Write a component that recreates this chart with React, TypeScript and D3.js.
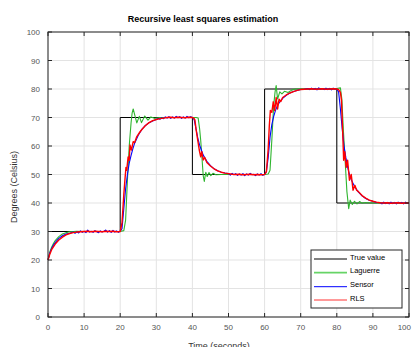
import * as d3 from "d3";

// Recursive least squares estimation: temperature steps and three estimators
type Pt = [number, number];

const title = "Recursive least squares estimation";
const xLabel = "Time (seconds)";
const yLabel = "Degrees (Celsius)";

const xTicks = [0, 10, 20, 30, 40, 50, 60, 70, 80, 90, 100];
const yTicks = [0, 10, 20, 30, 40, 50, 60, 70, 80, 90, 100];

const seriesNames = ["True value", "Laguerre", "Sensor", "RLS"];
const seriesColors = ["#000000", "#2fb52f", "#0000ff", "#ff0000"];
const legendColors = ["#000000", "#66d466", "#0000ff", "#ff3333"];

const trueValue: Pt[] = [
  [0, 30], [20, 30], [20, 70], [40, 70], [40, 50], [60, 50], [60, 80], [80, 80], [80, 40], [100, 40],
];

const laguerre: Pt[] = [
  [0, 20], [0.5, 22.8], [1, 24.5], [1.5, 25.8], [2, 26.8], [3, 28.2], [4, 29.1], [5, 29.6], [6, 29.9],
  [7, 30], [8, 30.1], [10, 30], [12, 30], [14, 30], [16, 30], [18, 30], [20, 30], [21, 30.3],
  [21.5, 34], [22, 48], [22.5, 60], [23, 68], [23.3, 71.5], [23.6, 73], [24, 71], [24.6, 68.1],
  [25.3, 70.4], [25.9, 68.2], [26.8, 70.5], [27.7, 69.1], [28.5, 70.2], [29.5, 69.7], [31, 70],
  [33, 70], [35, 70], [37, 70], [39, 70], [40, 70], [41, 70], [41.6, 69.8],
  [42, 66], [42.3, 62], [42.7, 55], [43, 49.5], [43.3, 47.6], [43.7, 50.8], [44.1, 49.3],
  [44.6, 50.7], [45.1, 49.6], [45.7, 50.4], [46.5, 49.9], [48, 50], [50, 50], [55, 50], [60, 50],
  [61, 50.2], [61.5, 51.5], [62, 62], [62.5, 74], [62.9, 79], [63.2, 81.2], [63.6, 76.5],
  [64.2, 79], [64.8, 78.3], [65.5, 79.2], [66.5, 78.8], [67.5, 79.6], [68.5, 80], [70, 80],
  [75, 80], [80, 80.2], [81, 80.4], [81.4, 76.5], [81.8, 66], [82.3, 55], [82.8, 44], [83.3, 38],
  [83.7, 41], [84.3, 39.5], [84.9, 40.6], [85.6, 39.7], [86.3, 40.5], [87, 39.9], [88, 40.2],
  [89, 40], [90, 40], [95, 40], [100, 40],
];

const sensor: Pt[] = [
  [0, 20], [0.5, 22.5], [1, 24], [1.5, 25.2], [2, 26.1], [3, 27.6], [4, 28.5], [5, 29.1], [6, 29.4],
  [7, 29.8], [7.5, 29.4], [8, 29.9], [8.5, 29.5], [9, 30.2], [9.5, 29.7], [10, 30.1], [10.5, 29.6],
  [11, 30.5], [11.5, 29.8], [12, 30.1], [12.5, 29.7], [13, 30.3], [13.5, 29.9], [14, 29.6],
  [14.5, 30.2], [15, 29.8], [15.5, 30.1], [16, 30.5], [16.5, 29.8], [17, 30.3], [17.5, 29.7],
  [18, 30.4], [18.5, 29.8], [19, 30.2], [19.5, 29.7], [20, 30.1],
  [20.5, 31], [21, 38], [21.5, 45], [22, 50], [22.5, 54], [23, 56.6], [23.5, 59], [24, 61],
  [25, 63.8], [26, 65.8], [27, 67.2], [28, 68.2], [29, 68.8], [30, 69.3], [30.5, 69.7], [31, 69.4],
  [31.5, 69.9], [32, 69.6], [32.5, 70.2], [33, 69.8], [33.5, 70.3], [34, 69.7], [34.5, 70.2],
  [35, 69.8], [35.5, 70.4], [36, 69.9], [36.5, 70.3], [37, 69.7], [37.5, 70.2], [38, 69.8],
  [38.5, 70.4], [39, 69.9], [39.5, 70.3], [40, 70],
  [40.5, 69.2], [41, 66], [41.5, 62.8], [42, 60.3], [42.5, 58.5], [43, 56.8], [44, 54.6],
  [45, 53.1], [46, 52], [47, 51.3], [48, 50.8], [49, 50.5], [50, 50.3], [50.5, 49.8], [51, 50.4],
  [51.5, 49.9], [52, 50.3], [52.5, 49.7], [53, 50.2], [53.5, 49.8], [54, 50.3], [54.5, 49.6],
  [55, 50.2], [55.5, 49.8], [56, 50.4], [56.5, 49.9], [57, 50.1], [57.5, 49.6], [58, 50.2],
  [58.5, 49.8], [59, 50.3], [59.5, 49.7], [60, 50],
  [60.5, 51], [61, 56], [61.5, 63], [62, 67.5], [62.5, 70.3], [63, 72.4], [63.5, 74], [64, 75.1],
  [65, 76.7], [66, 77.8], [67, 78.6], [68, 79.1], [69, 79.5], [70, 79.8], [71, 79.9], [72, 80.2],
  [72.5, 79.8], [73, 80.3], [73.5, 79.9], [74, 80.2], [74.5, 79.7], [75, 80.4], [75.5, 79.9],
  [76, 80.2], [76.5, 79.8], [77, 80.3], [77.5, 79.8], [78, 80.2], [78.5, 79.7], [79, 80.3],
  [79.5, 79.9], [80, 80],
  [80.5, 79], [81, 73], [81.5, 66], [82, 60], [82.5, 56], [83, 52.6], [83.5, 50], [84, 48.2],
  [85, 45.6], [86, 43.8], [87, 42.5], [88, 41.6], [89, 41], [90, 40.6], [91, 40.2], [92, 40.2],
  [92.5, 39.7], [93, 40.3], [93.5, 39.8], [94, 40.2], [94.5, 39.7], [95, 40.3], [95.5, 39.8],
  [96, 40.2], [96.5, 39.7], [97, 40.3], [97.5, 39.9], [98, 40.2], [98.5, 39.7], [99, 40.3],
  [99.5, 39.8], [100, 40],
];

const rls: Pt[] = [
  [0, 20], [0.5, 22], [1, 23.6], [1.5, 24.6], [2, 25.6], [3, 27], [4, 28], [5, 28.8], [6, 29.3],
  [7, 29.6], [8, 29.8], [9, 29.9], [10, 30], [11, 30.1], [12, 29.9], [13, 30.1], [14, 30],
  [15, 29.9], [16, 30.1], [17, 30], [18, 30.1], [19, 29.9], [20, 30],
  [20.5, 33], [21, 43], [21.3, 48], [21.6, 52.5], [21.8, 51.5], [22.2, 56.2], [22.5, 55],
  [22.7, 60.4], [23.1, 58.6], [23.6, 61.5], [24, 61.2], [24.6, 63.3], [25.5, 65], [26, 65.8],
  [27, 67.2], [28, 68.2], [29, 68.9], [30, 69.3], [31, 69.6], [32, 69.8], [33, 70], [34, 70.1],
  [35, 69.9], [36, 70.1], [37, 70], [38, 69.9], [39, 70.1], [40, 70],
  [40.5, 69.6], [40.7, 69.1], [41, 66], [41.4, 62.7], [41.9, 58.6], [42.3, 56.2], [42.6, 58],
  [43, 55.1], [43.4, 56], [44, 54.2], [45, 53], [46, 52], [47, 51.3], [48, 50.8], [49, 50.5],
  [50, 50.3], [51, 50.1], [52, 50], [53, 50.1], [54, 49.9], [55, 50], [56, 50.1], [57, 49.9],
  [58, 50], [59, 49.9], [60, 50],
  [60.5, 51], [61, 59], [61.3, 67], [61.6, 72.5], [62, 71.8], [62.4, 75.5], [62.8, 72.4],
  [63.2, 77], [63.6, 73], [64, 76.4], [64.5, 75.6], [65, 77], [66, 77.9], [67, 78.6], [68, 79.1],
  [69, 79.5], [70, 79.8], [71, 79.9], [72, 80], [73, 80.1], [74, 79.9], [75, 80], [76, 80.1],
  [77, 79.9], [78, 80], [79, 80.1], [80, 80],
  [80.5, 79.8], [81, 78.8], [81.3, 76], [81.6, 66], [81.9, 55], [82.2, 58], [82.6, 52.5], [83, 55],
  [83.5, 48], [84, 50], [84.5, 44.5], [85, 46.2], [85.5, 44.5], [86, 44], [87, 42.6], [88, 41.7],
  [89, 41], [90, 40.6], [91, 40.3], [92, 40.1], [93, 40], [94, 40.1], [95, 39.9], [96, 40],
  [97, 40.1], [98, 39.9], [99, 40], [100, 40],
];

const allSeries = [trueValue, laguerre, sensor, rls];
const seriesWidths = [1, 1.1, 1.1, 1.4];

export default function App() {
  const width = 414;
  const height = 347;
  const left = 48, right = 409, top = 32, bottom = 317;
  const font = "'Liberation Sans', Arial, sans-serif";

  const x = d3.scaleLinear().domain([0, 100]).range([left, right]);
  const y = d3.scaleLinear().domain([0, 100]).range([bottom, top]);

  const line = d3.line<Pt>()
    .x(d => x(d[0]))
    .y(d => y(d[1]));

  const legX = 311, legY = 250, legW = 91, legH = 58;
  const rowY = [259, 272.7, 286.7, 300];

  return (
    <svg width={width} height={height}
         style={{position: "absolute", left: 0, top: 0, background: "#fff", fontFamily: font}}>
      <rect x={0} y={0} width={width} height={height} fill="#fff"/>

      {/* grid */}
      <g stroke="#e3e3e3" strokeWidth={1}>
        {xTicks.map(t => (
          <line key={"gx" + t} x1={x(t)} x2={x(t)} y1={top} y2={bottom}/>
        ))}
        {yTicks.map(t => (
          <line key={"gy" + t} x1={left} x2={right} y1={y(t)} y2={y(t)}/>
        ))}
      </g>

      {/* data lines */}
      <g fill="none" strokeLinejoin="round">
        {allSeries.map((s, i) => (
          <path key={seriesNames[i]} d={line(s) ?? ""} stroke={seriesColors[i]} strokeWidth={seriesWidths[i]}/>
        ))}
      </g>

      {/* box and ticks */}
      <g stroke="#262626" strokeWidth={1}>
        <rect x={left} y={top} width={right - left} height={bottom - top} fill="none"/>
        {xTicks.map(t => (
          <g key={"tx" + t}>
            <line x1={x(t)} x2={x(t)} y1={bottom} y2={bottom - 4}/>
            <line x1={x(t)} x2={x(t)} y1={top} y2={top + 4}/>
          </g>
        ))}
        {yTicks.map(t => (
          <g key={"ty" + t}>
            <line x1={left} x2={left + 4} y1={y(t)} y2={y(t)}/>
            <line x1={right} x2={right - 4} y1={y(t)} y2={y(t)}/>
          </g>
        ))}
      </g>

      {/* tick labels */}
      <g fontSize={8} fill="#555">
        {xTicks.map((t, i) => (
          <text key={"lx" + t} x={i === xTicks.length - 1 ? x(t) + 2 : x(t)} y={330}
                textAnchor={i === xTicks.length - 1 ? "end" : "middle"}>{t}</text>
        ))}
        {yTicks.map(t => (
          <text key={"ly" + t} x={left - 8} y={y(t) + 3} textAnchor="end">{t}</text>
        ))}
      </g>

      {/* title and axis labels */}
      <text x={203} y={22} textAnchor="middle" fontSize={9} fontWeight="bold" fill="#000">{title}</text>
      <text x={219} y={349} textAnchor="middle" fontSize={9} fill="#333">{xLabel}</text>
      <text transform={`translate(17,187) rotate(-90)`} textAnchor="middle" fontSize={9} fill="#333">{yLabel}</text>

      {/* legend */}
      <g>
        <rect x={legX} y={legY} width={legW} height={legH} fill="#fff" stroke="#262626" strokeWidth={1}/>
        {seriesNames.map((name, i) => (
          <g key={"lg" + name}>
            <line x1={314} x2={347} y1={rowY[i]} y2={rowY[i]} stroke={legendColors[i]}
                  strokeWidth={i === 1 ? 1.8 : 1}/>
            <text x={350} y={rowY[i] + 0.5} fontSize={7.5} fill="#000">{name}</text>
          </g>
        ))}
      </g>
    </svg>
  );
}
